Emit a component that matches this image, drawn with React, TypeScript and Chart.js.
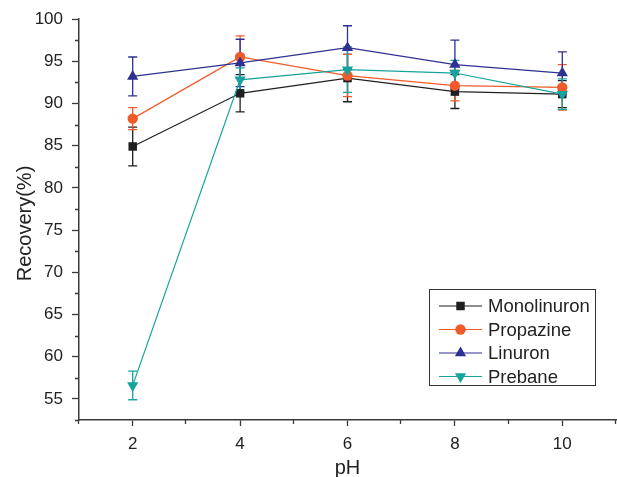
import React, { useEffect, useRef } from "react";
import { Chart, registerables } from "chart.js";
import { drawPoint } from "chart.js/helpers";

Chart.register(...registerables);

const pH = [2, 4, 6, 8, 10];
const monolinuron = [84.9, 91.2, 93.0, 91.4, 91.1];
const monolinuronErr = [2.3, 2.2, 2.8, 2.0, 1.6];
const propazine = [88.2, 95.5, 93.3, 92.1, 91.9];
const propazineErr = [1.3, 2.5, 2.5, 1.8, 2.7];
const linuron = [93.2, 94.8, 96.6, 94.6, 93.6];
const linuronErr = [2.3, 2.8, 2.6, 2.9, 2.5];
const prebane = [56.6, 92.8, 94.0, 93.6, 91.1];
const prebaneErr = [1.7, 1.4, 2.7, 1.5, 1.8];

const xMajorTicks = [2, 4, 6, 8, 10];
const xMinorTicks = [1, 3, 5, 7, 9, 11];
const yMajorTicks = [55, 60, 65, 70, 75, 80, 85, 90, 95, 100];
const yMinorTicks = [52.5, 57.5, 62.5, 67.5, 72.5, 77.5, 82.5, 87.5, 92.5, 97.5];

const FONT = "'Liberation Sans', Arial, sans-serif";
const AXIS_COLOR = "#3a3a3a";

const series = [
  { label: "Monolinuron", data: monolinuron, err: monolinuronErr, color: "#1f1f1f", style: "rect", radius: 6, rotation: 0 },
  { label: "Propazine", data: propazine, err: propazineErr, color: "#f15a29", style: "circle", radius: 5.2, rotation: 0 },
  { label: "Linuron", data: linuron, err: linuronErr, color: "#2e3192", style: "triangle", radius: 6.5, rotation: 0 },
  { label: "Prebane", data: prebane, err: prebaneErr, color: "#16a39e", style: "triangle", radius: 6.5, rotation: 180 },
];

const errorBarPlugin = {
  id: "errorBars",
  beforeDatasetsDraw(chart: any) {
    const { ctx, scales } = chart;
    const xs = scales.x;
    const ys = scales.y;
    ctx.save();
    series.forEach((s) => {
      ctx.strokeStyle = s.color;
      ctx.lineWidth = 1.3;
      s.data.forEach((v, j) => {
        const px = xs.getPixelForValue(pH[j]);
        const top = ys.getPixelForValue(v + s.err[j]);
        const bot = ys.getPixelForValue(v - s.err[j]);
        ctx.beginPath();
        ctx.moveTo(px, top);
        ctx.lineTo(px, bot);
        ctx.moveTo(px - 4.5, top);
        ctx.lineTo(px + 4.5, top);
        ctx.moveTo(px - 4.5, bot);
        ctx.lineTo(px + 4.5, bot);
        ctx.stroke();
      });
    });
    ctx.restore();
  },
};

const decorPlugin = {
  id: "decor",
  afterDraw(chart: any) {
    const { ctx, scales, chartArea } = chart;
    const xs = scales.x;
    const ys = scales.y;
    ctx.save();
    // minor ticks
    ctx.strokeStyle = AXIS_COLOR;
    ctx.lineWidth = 1.3;
    ctx.beginPath();
    yMinorTicks.forEach((t) => {
      const py = Math.round(ys.getPixelForValue(t)) + 0.5;
      ctx.moveTo(chartArea.left - 4, py);
      ctx.lineTo(chartArea.left, py);
    });
    xMinorTicks.forEach((t) => {
      const px = Math.round(xs.getPixelForValue(t)) - 0.5;
      ctx.moveTo(px, chartArea.bottom);
      ctx.lineTo(px, chartArea.bottom + 4);
    });
    ctx.stroke();

    // axis titles
    ctx.fillStyle = "#222";
    ctx.font = `20px ${FONT}`;
    ctx.textAlign = "center";
    ctx.textBaseline = "alphabetic";
    ctx.fillText("pH", (chartArea.left + chartArea.right) / 2, 474);
    ctx.save();
    ctx.translate(31, (chartArea.top + chartArea.bottom) / 2 + 4);
    ctx.rotate(-Math.PI / 2);
    ctx.fillText("Recovery(%)", 0, 0);
    ctx.restore();

    // legend
    const lx = 429.5, ly = 289.5, lw = 166, lh = 96;
    ctx.fillStyle = "#fff";
    ctx.fillRect(lx, ly, lw, lh);
    ctx.strokeStyle = "#333";
    ctx.lineWidth = 1;
    ctx.strokeRect(lx, ly, lw, lh);
    ctx.font = `18.5px ${FONT}`;
    ctx.textAlign = "left";
    ctx.textBaseline = "middle";
    series.forEach((s, i) => {
      const cy = 306 + i * 23.5;
      ctx.strokeStyle = s.color;
      ctx.lineWidth = 1.2;
      ctx.beginPath();
      ctx.moveTo(439, cy);
      ctx.lineTo(482, cy);
      ctx.stroke();
      ctx.fillStyle = s.color;
      drawPoint(ctx, { pointStyle: s.style, radius: s.radius, rotation: s.rotation, borderWidth: 0 } as any, 460.5, cy);
      ctx.fillStyle = "#222";
      ctx.fillText(s.label, 488, cy + 1);
    });
    ctx.restore();
  },
};

export default function App() {
  const ref = useRef<HTMLCanvasElement>(null);
  useEffect(() => {
    document.body.style.margin = "0";
    const canvas = ref.current!;
    const chart = new Chart(canvas, {
      type: "line",
      data: {
        datasets: series.map((s, i) => ({
          label: s.label,
          data: s.data.map((v, j) => ({ x: pH[j], y: v })),
          borderColor: s.color,
          backgroundColor: s.color,
          pointBackgroundColor: s.color,
          pointBorderColor: s.color,
          pointBorderWidth: 0,
          pointStyle: s.style as any,
          pointRadius: s.radius,
          pointRotation: s.rotation,
          borderWidth: 1.2,
          tension: 0,
          clip: false as any,
          order: 4 - i,
        })),
      },
      plugins: [errorBarPlugin, decorPlugin],
      options: {
        responsive: false,
        animation: false,
        events: [],
        layout: { autoPadding: false, padding: { left: 0, right: 1, top: 19, bottom: 0 } },
        plugins: { legend: { display: false }, tooltip: { enabled: false }, title: { display: false } },
        scales: {
          x: {
            type: "linear",
            min: 1,
            max: 11,
            afterBuildTicks: (axis: any) => {
              axis.ticks = xMajorTicks.map((v) => ({ value: v }));
            },
            afterFit: (axis: any) => {
              axis.height = 57;
              axis.paddingLeft = 0;
              axis.paddingRight = 0;
            },
            border: { display: true, color: AXIS_COLOR, width: 1.5 },
            grid: { display: true, drawOnChartArea: false, drawTicks: true, tickLength: 6, tickColor: AXIS_COLOR, tickWidth: 1.3 },
            ticks: { font: { family: FONT, size: 17 }, color: "#222", padding: 8, maxRotation: 0, autoSkip: false },
          },
          y: {
            type: "linear",
            min: 52.5,
            max: 100,
            afterBuildTicks: (axis: any) => {
              axis.ticks = yMajorTicks.map((v) => ({ value: v }));
            },
            afterFit: (axis: any) => {
              axis.width = 79;
              axis.paddingTop = 0;
              axis.paddingBottom = 0;
            },
            border: { display: true, color: AXIS_COLOR, width: 1.5 },
            grid: { display: true, drawOnChartArea: false, drawTicks: true, tickLength: 7, tickColor: AXIS_COLOR, tickWidth: 1.3 },
            ticks: { font: { family: FONT, size: 17 }, color: "#222", padding: 9, autoSkip: false },
          },
        },
      },
    });
    return () => chart.destroy();
  }, []);
  return (
    <div style={{ width: 617, height: 477, background: "#fff" }}>
      <canvas ref={ref} width={617} height={477} style={{ display: "block" }} />
    </div>
  );
}
